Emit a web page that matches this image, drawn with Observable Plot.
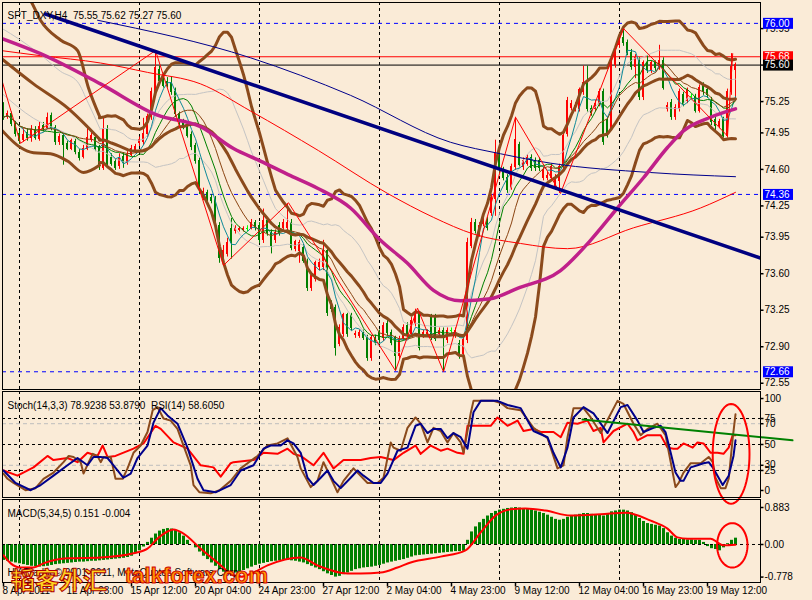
<!DOCTYPE html>
<html><head><meta charset="utf-8">
<script src="https://cdn.jsdelivr.net/npm/d3@7"></script>
<script src="https://cdn.jsdelivr.net/npm/@observablehq/plot@0.6"></script>
<style>
html,body{margin:0;padding:0;background:#FAEBD7;}
#wrap{position:relative;width:812px;height:600px;background:#FAEBD7;overflow:hidden;}
#chart svg{display:block;overflow:visible;}
.wm{position:absolute;white-space:nowrap;font-weight:bold;}
</style></head>
<body><div id="wrap"><div id="chart"></div>
<div class="wm" style="left:11px;top:561px;font-size:24px;font-family:'Noto Sans CJK SC';color:#FFD21F;-webkit-text-stroke:1px #B00000;">韬客外汇</div>
<div class="wm" style="left:125px;top:563px;font-size:22px;font-family:'Liberation Sans';color:#FF9A00;-webkit-text-stroke:1px #D00000;">talkforex.com</div>
</div>
<script>
// ---------------- data (H4 bars, index 0 = 8 Apr 2011) ----------------
const opens = [
75.19,75.10,75.13,75.04,74.94,74.88,74.95,74.90,74.98,74.89,
75.02,75.00,75.11,75.00,74.86,74.92,74.84,74.80,74.86,74.76,
74.72,74.80,74.88,74.90,74.81,74.61,74.99,74.71,74.67,74.63,
74.72,74.66,74.74,74.77,74.85,74.86,74.94,75.10,75.33,75.55,
75.47,75.44,75.43,75.34,75.13,75.05,75.01,74.93,74.82,74.68,
74.33,74.37,74.33,74.31,74.06,73.75,73.79,74.03,74.01,74.02,
74.02,74.03,74.04,74.09,74.06,73.92,74.11,73.99,73.92,74.06,
74.04,74.04,74.09,73.84,73.82,73.85,73.70,73.46,73.55,73.66,
73.66,73.82,73.31,73.27,72.93,73.02,73.20,73.20,73.01,73.00,
73.03,72.98,72.79,72.98,73.03,72.98,73.12,73.03,72.98,72.81,
72.98,73.10,73.02,73.12,73.22,73.00,73.02,73.18,73.18,73.02,
73.05,72.96,73.05,73.00,72.93,72.83,72.96,73.87,74.09,73.98,
74.08,74.11,74.18,74.32,74.76,74.59,74.52,74.42,74.62,74.83,
74.62,74.65,74.71,74.68,74.68,74.52,74.52,74.52,74.42,74.49,
74.62,74.94,75.19,75.18,75.18,75.34,75.43,75.18,75.18,75.23,
75.34,75.07,75.00,75.60,75.79,75.86,75.81,75.72,75.58,75.64,
75.29,75.62,75.55,75.62,75.58,75.64,75.18,75.24,75.10,75.18,
75.31,75.26,75.29,75.29,75.16,75.40,75.36,75.26,75.07,75.02,
75.07,74.92,75.34,75.55];
const highs = [
75.24,75.16,75.15,75.06,74.97,74.99,74.99,75.02,75.01,75.05,
75.05,75.14,75.14,75.02,74.94,74.94,74.87,74.89,74.89,74.79,
74.83,75.02,74.95,74.93,74.83,75.09,75.02,74.75,74.70,74.75,
74.76,74.77,74.83,74.84,74.91,75.09,75.13,75.38,75.74,75.59,
75.50,75.48,75.49,75.38,75.15,75.08,75.04,74.96,74.85,74.71,
74.42,74.40,74.36,74.34,74.09,73.87,73.94,74.13,74.06,74.05,
74.05,74.06,74.12,74.11,74.09,74.22,74.14,74.02,74.02,74.09,
74.12,74.27,74.12,73.92,73.92,73.88,73.74,73.61,73.72,73.74,
73.92,73.85,73.34,73.30,73.11,73.22,73.22,73.22,73.05,73.06,
73.06,73.01,73.01,73.01,73.06,73.13,73.15,73.06,73.00,73.00,
73.11,73.13,73.18,73.26,73.24,73.06,73.06,73.21,73.21,73.08,
73.08,73.08,73.08,73.08,72.96,72.98,73.94,74.13,74.12,74.09,
74.16,74.14,74.36,74.88,74.79,74.62,74.55,74.65,75.10,74.86,
74.71,74.74,74.74,74.71,74.71,74.62,74.57,74.65,74.55,74.65,
74.95,75.29,75.26,75.24,75.38,75.59,75.59,75.21,75.26,75.37,
75.37,75.10,75.64,75.75,75.88,75.95,75.84,75.75,75.70,75.67,
75.64,75.69,75.64,75.64,75.79,75.67,75.24,75.27,75.22,75.37,
75.34,75.38,75.32,75.32,75.41,75.43,75.38,75.29,75.10,75.08,
75.10,75.37,75.71,75.62];
const lows = [
75.07,75.08,75.01,74.91,74.84,74.86,74.87,74.86,74.88,74.87,
74.96,74.98,74.97,74.83,74.83,74.64,74.78,74.78,74.74,74.68,
74.70,74.78,74.86,74.77,74.59,74.59,74.61,74.63,74.59,74.60,
74.61,74.64,74.72,74.75,74.82,74.83,74.91,75.07,75.30,75.42,
75.38,75.38,75.31,75.10,75.02,74.98,74.90,74.78,74.65,74.36,
74.30,74.29,74.27,74.03,73.70,73.68,73.76,73.74,73.98,74.00,
74.00,74.00,74.02,74.01,73.89,73.89,73.96,73.79,73.89,73.96,
74.01,74.01,73.82,73.81,73.70,73.70,73.43,73.43,73.52,73.63,
73.63,73.19,73.23,72.81,72.90,72.99,72.99,73.05,72.98,72.98,
72.96,72.76,72.76,72.91,72.93,72.95,73.00,72.91,72.67,72.78,
72.96,72.99,72.99,73.09,72.86,72.98,72.99,72.96,72.95,72.99,
72.66,72.93,73.02,72.98,72.78,72.80,72.93,73.84,73.98,73.95,
74.05,74.01,74.15,74.15,74.56,74.49,74.37,74.40,74.59,74.61,
74.59,74.63,74.58,74.58,74.58,74.49,74.49,74.49,74.40,74.37,
74.59,74.91,75.16,75.15,75.15,75.31,75.15,75.11,75.15,75.20,
74.83,74.90,74.97,75.57,75.76,75.78,75.69,75.55,75.47,75.26,
75.26,75.52,75.52,75.54,75.55,75.36,75.15,75.07,75.07,75.15,
75.20,75.23,75.26,75.14,75.14,75.31,75.28,75.02,74.97,74.99,
74.90,74.90,75.31,75.27];
const closes = [
75.10,75.13,75.04,74.94,74.87,74.93,74.90,74.98,74.90,75.01,
74.99,75.09,75.00,74.86,74.91,74.83,74.80,74.87,74.77,74.71,
74.80,74.90,74.92,74.80,74.63,74.99,74.63,74.65,74.61,74.71,
74.66,74.74,74.80,74.81,74.88,74.94,75.10,75.34,75.57,75.45,
75.40,75.40,75.34,75.13,75.05,75.01,74.92,74.81,74.68,74.40,
74.38,74.32,74.30,74.06,73.75,73.82,73.89,73.89,74.04,74.03,
74.03,74.03,74.09,74.04,73.92,74.11,73.99,73.87,73.99,73.99,
74.09,74.09,73.85,73.90,73.89,73.72,73.46,73.58,73.70,73.70,
73.82,73.22,73.26,72.89,73.08,73.20,73.02,73.08,73.02,73.03,
72.98,72.79,72.98,72.94,72.96,73.10,73.03,72.94,72.81,72.97,
73.08,73.02,73.15,73.22,72.89,73.03,73.03,72.98,72.97,73.05,
72.98,73.05,73.05,73.05,72.81,72.96,73.89,74.09,74.01,74.06,
74.13,74.04,74.33,74.76,74.59,74.52,74.40,74.62,74.88,74.64,
74.68,74.71,74.61,74.61,74.61,74.59,74.54,74.62,74.52,74.62,
74.92,75.26,75.23,75.21,75.36,75.43,75.18,75.14,75.23,75.34,
74.86,74.92,75.60,75.72,75.86,75.81,75.72,75.58,75.67,75.29,
75.62,75.55,75.62,75.57,75.64,75.38,75.21,75.10,75.19,75.34,
75.23,75.36,75.29,75.16,75.38,75.34,75.31,75.05,75.02,75.05,
74.92,75.34,75.58,75.60];

const xTickIdx = [0,16,32,48,64,80,96,112,128,144,160,176];
const xTickLabels = ["8 Apr 2011","12 Apr 23:00","15 Apr 12:00","20 Apr 04:00","24 Apr 23:00","27 Apr 12:00",
  "2 May 04:00","4 May 23:00","9 May 12:00","12 May 04:00","16 May 23:00","19 May 12:00"];
const gridIdx = [4,34,64,94,124,154];
const priceTicks = [75.95,75.60,75.25,74.95,74.60,74.25,73.95,73.60,73.25,72.90,72.55];
const blueLevels = [76.00,74.36,72.66];
const askLevel = [75.68];
const bidLevel = [75.60];
const titleText = "SPT_DXY,H4  75.55 75.62 75.27 75.60";

// band values before the 20-bar window is filled (history before the first visible bar)
const bbUpperLead = [[4,76.35],[6.75,76.22],[9.25,76.03],[14.25,75.84],[18.5,75.74],[21.25,75.38],[24,75.11]];
const bbMidLead = [[-0.75,75.67],[7.5,75.42],[16,75.19],[24,74.89]];
const bbLowerLead = [[-0.75,74.99],[4.25,74.81],[7.5,74.76],[11.75,74.75],[16,74.68],[20,74.57],[24,74.64]];
const bb1UpperLead = [[-0.75,75.96],[4.25,75.84],[9.25,75.70],[14.25,75.54],[18.5,75.44],[21.25,75.23],[24,75.00]];
const bb1LowerLead = [[-0.75,75.34],[7.5,75.09],[16,74.94],[24,74.76]];
const bandStart = 24;

// hand-read long moving averages, trend line, zigzag  [bar index, price]
const maMagenta = [[-0.75,75.86],[9.25,75.71],[24.25,75.42],[38.5,75.12],[49.25,75.01],[57.5,74.80],[64.25,74.68],
  [71.75,74.54],[78.5,74.42],[86.75,74.23],[94.25,73.92],[101,73.70],[107.5,73.44],[114.25,73.34],[121.75,73.36],
  [128.5,73.46],[139.25,73.63],[146.75,73.92],[153.5,74.23],[160,74.52],[166,74.81],[170,74.97],[176.75,75.10],[183,75.18]];
const maRed = [[-0.75,75.74],[9.25,75.69],[24.25,75.62],[36,75.53],[49.25,75.42],[61.75,75.16],[78.75,74.78],
  [96,74.37],[107.5,74.14],[117.5,73.98],[129.25,73.89],[141,73.84],[157.5,74.04],[174.25,74.23],[183,74.38]];
const maNavy = [[23.5,76.03],[61.75,75.67],[86.75,75.31],[111.75,74.86],[124.25,74.75],[136.75,74.66],[161.75,74.57],[183,74.53]];
const trendLine = [[10.5,76.09],[189.25,73.75]];
const zigzag = [[-0.75,75.50],[4.25,74.85],[38,75.74],[55,73.68],[71.25,74.28],[98,72.67],[103.5,73.27],[110,72.66],
  [128,75.10],[139.25,74.37],[155,75.95],[181,74.92],[182.3,75.71]];

// Stochastic(14,3,3) and RSI(14)  [bar index, value]
const stochK = [[0,22],[1,17],[2.5,13],[5.5,6],[8,8],[10,17],[12.5,23],[15,33],[16.3,39],[17.5,38],[19.3,33],[20,22],[21.3,33],
  [22.3,41],[23.5,39],[24.3,33],[25,38],[26.8,38],[28,17],[29.8,17],[31,27],[32.5,42],[34.3,49],[36,62],[37.3,83],[38.5,86],
  [40,75],[41.8,73],[43.5,65],[45,49],[46.8,30],[47.5,11],[49,4],[51.8,3],[54,6],[56.8,15],[59.3,27],[63.5,39],[66,49],
  [68.5,51],[71,56],[73.5,38],[74.3,27],[76.8,9],[78.5,15],[80,33],[81.8,18],[83.5,4],[85,15],[87.5,27],[91,13],[93.5,13],
  [95,18],[96.8,52],[97.5,47],[99.3,44],[101,66],[103,76],[104.3,70],[106,52],[107.5,66],[109.3,63],[111,52],[112.5,61],
  [114.3,52],[115,42],[116.8,80],[117.5,92],[122.5,92],[124.3,90],[126,85],[129.3,83],[132.5,66],[136,56],[138.5,27],
  [140,30],[141,57],[142.5,85],[145,85],[146.8,76],[149.3,61],[153.5,92],[155,89],[157.5,70],[159.3,59],[161,65],
  [163.5,70],[165.5,59],[166.8,33],[168,9],[168.8,13],[170,23],[171.8,32],[174.3,32],[176.3,38],[177.3,33],[178,18],
  [179.3,8],[180.5,8],[181.3,17],[182.3,56],[183,79]];
const stochD = [[0,25],[3,13],[6.8,6],[9.3,11],[12.5,20],[16,30],[18.5,37],[21,30],[22.5,38],[24.3,38],[26,37],[27.5,30],
  [30,18],[31.8,22],[33.5,37],[36,49],[37.5,71],[39.3,85],[41,78],[43.5,70],[46,47],[48.5,17],[50,6],[53,4],[56.8,11],
  [59.3,25],[62.5,30],[65,46],[66.8,49],[69.3,49],[71,54],[72.5,51],[74.3,42],[76,18],[77.5,11],[79.3,18],[81,25],
  [82.5,15],[84.3,8],[86.8,18],[88.5,25],[90,20],[92.5,13],[94.3,13],[96,22],[98.5,44],[101,47],[103,68],[104.3,70],
  [106,61],[107.5,65],[109.3,65],[111,56],[112.5,61],[114.3,57],[116,46],[117.5,81],[119.3,92],[123.5,92],[126,88],
  [129.3,85],[132.5,63],[136,57],[137.5,42],[139.3,28],[141,47],[142.5,76],[145,86],[147.5,80],[151,61],[154.3,86],
  [156,88],[158.5,73],[160,62],[162.5,66],[164.3,68],[165.5,62],[166.8,42],[168,23],[169.3,15],[170,15],[171.8,28],
  [173.5,30],[175,32],[176.3,33],[177.3,28],[178.5,20],[179.8,11],[181.3,20],[182.5,39],[183,54]];
const rsi = [[0,25],[3.5,20],[7.5,28],[11,39],[12.5,35],[16,37],[18.5,33],[21,42],[23.5,39],[24.8,49],[26,38],[28,39],
  [32.5,46],[35,51],[38,68],[39.3,65],[42.5,52],[46,46],[49.3,30],[52.5,28],[54.3,19],[56.8,32],[57.5,33],[62.5,35],
  [65,42],[68.5,41],[71,46],[72.5,41],[74.3,39],[77.5,30],[80,42],[82.5,27],[85,35],[89.3,35],[91.8,37],[94.3,38],
  [97.5,35],[100,42],[103,49],[104.3,41],[106.8,49],[109.3,44],[111,46],[113.5,42],[115,41],[116,68],[121.8,68],
  [123.5,76],[126,68],[128.5,73],[130,63],[132.5,65],[134.3,62],[137.5,62],[139.3,57],[141,71],[143.5,70],[146,73],
  [147.5,63],[149.3,66],[150,52],[152.5,63],[156,70],[157.5,62],[158.5,54],[161,59],[164.3,59],[166,47],[167.5,46],
  [168.5,46],[170,51],[172.3,47],[173.5,52],[175,51],[176.8,42],[178.5,42],[180,41],[181.3,47],[182.3,59],[183,59]];
const stochTrend = [[144.75,74],[197.25,54]];
const stochLevelsBlack = [75,50,25];
const stochLevelsGrey = [70,30];
const stochTicks = [75,70,50,30,25];
const stochEdgeTop = [100], stochEdgeBottom = [0];
const stochLabel = "Stoch(14,3,3) 78.9238 53.8790  RSI(14) 58.6050";

// MACD(5,34,5)
const macdHist = [
-0.38,-0.40,-0.42,-0.44,-0.46,-0.48,-0.50,-0.52,-0.53,-0.54,
-0.53,-0.52,-0.50,-0.48,-0.47,-0.46,-0.45,-0.44,-0.43,-0.42,
-0.42,-0.41,-0.40,-0.40,-0.39,-0.38,-0.37,-0.36,-0.35,-0.34,
-0.33,-0.31,-0.28,-0.22,-0.15,-0.06,0.05,0.15,0.25,0.32,
0.36,0.38,0.37,0.34,0.28,0.20,0.10,0.00,-0.08,-0.18,
-0.28,-0.36,-0.44,-0.52,-0.60,-0.66,-0.70,-0.70,-0.68,-0.65,
-0.62,-0.58,-0.54,-0.50,-0.47,-0.45,-0.43,-0.41,-0.40,-0.39,
-0.38,-0.38,-0.39,-0.40,-0.42,-0.44,-0.48,-0.52,-0.56,-0.60,
-0.65,-0.70,-0.74,-0.778,-0.76,-0.72,-0.68,-0.64,-0.60,-0.58,
-0.56,-0.55,-0.54,-0.52,-0.50,-0.47,-0.44,-0.42,-0.40,-0.38,
-0.36,-0.33,-0.30,-0.27,-0.26,-0.25,-0.24,-0.23,-0.22,-0.21,
-0.20,-0.19,-0.18,-0.17,-0.17,-0.16,0.10,0.30,0.42,0.52,
0.60,0.68,0.74,0.79,0.82,0.84,0.86,0.87,0.883,0.87,
0.86,0.85,0.83,0.80,0.77,0.74,0.70,0.65,0.60,0.58,
0.60,0.65,0.68,0.70,0.72,0.74,0.74,0.72,0.70,0.70,
0.68,0.72,0.78,0.80,0.82,0.82,0.80,0.76,0.70,0.62,
0.55,0.50,0.48,0.46,0.44,0.38,0.28,0.20,0.15,0.12,
0.12,0.11,0.11,0.10,0.10,0.05,-0.05,-0.10,-0.12,-0.15,
-0.08,0.02,0.10,0.151];
const macdSignal = [[0,-0.26],[1.8,-0.45],[4.3,-0.55],[7.5,-0.55],[10,-0.45],[16,-0.33],[24.3,-0.31],[32.5,-0.21],
  [36,-0.10],[38.5,0.14],[41,0.31],[42.5,0.36],[45,0.26],[49.3,-0.10],[53.5,-0.43],[57.5,-0.74],[59.3,-0.77],
  [62.5,-0.67],[66,-0.50],[74.3,-0.31],[78.5,-0.50],[86,-0.69],[89.3,-0.69],[94.3,-0.67],[98.5,-0.55],[101.8,-0.43],
  [109.3,-0.29],[115.5,-0.14],[119.3,0.29],[123,0.69],[126.8,0.84],[130.5,0.86],[135.5,0.81],[141.8,0.69],
  [149.3,0.72],[155.5,0.76],[161.8,0.57],[166,0.38],[168.5,0.17],[171,0.14],[176.8,0.14],[178.5,0.05],[180,-0.02],[183,-0.004]];
const macdTicks = [0.883,0.00,-0.778];
const macdLabel = "MACD(5,34,5) 0.151 -0.004";
const copyrightText = "HY Tradoc© 2001-2011, MetaQuotes Software Corp.";

// annotation ellipses (hand drawn in the original): centre index, centre value, radius in bars, radius in value units
const stochEllipse = {i: 181.9, v: 41, ri: 4.6, rv: 48};
const macdEllipse = {i: 182.2, v: -0.02, ri: 3.8, rv: 0.53};

// ---------------- drawing ----------------
const W = 812, ML = 2, MR = 52;
const xDomain = [-0.25, 189.25];
const font = "Liberation Sans, Arial, sans-serif";
const bars = closes.map((c, i) => ({i, o: opens[i], h: highs[i], l: lows[i], c, hist: macdHist[i]}));
const candleColor = d => d.c > d.o ? "#FF0000" : d.c < d.o ? "#008000" : "#00FF00";
const P = {x: d => d[0], y: d => d[1]};
const sd = V => { const m = d3.mean(V); return Math.sqrt(d3.mean(V, v => (v - m) ** 2)); };
const tickSym = {draw(ctx) { ctx.moveTo(0, 0); ctx.lineTo(3, 0); }};
const vTickSym = {draw(ctx) { ctx.moveTo(0, 0); ctx.lineTo(0, 4); }};
const boxSym = {draw(ctx) { ctx.rect(2.5, -5.5, 30, 11); }};
const ellipsePts = e => d3.range(0, 64).map(k => [e.i + e.ri * Math.cos(k / 64 * 2 * Math.PI), e.v + e.rv * Math.sin(k / 64 * 2 * Math.PI)]);
const baseStyle = {background: "transparent", fontFamily: font, fontSize: "10px", overflow: "visible", color: "black"};
const BB = "#8B4A1C", GREY = "#C4C4C4";
const band = (reduce, stroke, strokeWidth) =>
  Plot.lineY(bars, Plot.filter(d => d.i >= bandStart, Plot.windowY({k: 20, anchor: "end", reduce}, {x: "i", y: "c", stroke, strokeWidth, clip: true})));

const rightLabels = (vals) => [
  Plot.dot(vals, {y: d => d, frameAnchor: "right", symbol: tickSym, stroke: "black", fill: "none", r: 2}),
  Plot.text(vals, {y: d => d, text: d => d.toFixed(2), frameAnchor: "right", textAnchor: "start", dx: 4, fill: "black"})
];
const boxLabel = (vals, color) => [
  Plot.dot(vals, {y: d => d, frameAnchor: "right", symbol: boxSym, fill: color, stroke: "none", r: 2}),
  Plot.text(vals, {y: d => d, text: d => d.toFixed(2), frameAnchor: "right", textAnchor: "start", dx: 4, fill: "white"})
];

const main = Plot.plot({
  width: W, height: 390, marginTop: 2, marginBottom: 1, marginLeft: ML, marginRight: MR,
  x: {domain: xDomain, axis: null},
  y: {domain: [72.49, 76.20], axis: null},
  style: baseStyle,
  marks: [
    Plot.ruleX(gridIdx, {x: d => d, stroke: "black", strokeDasharray: "3,3"}),
    Plot.ruleY(blueLevels, {y: d => d, stroke: "#0000FF", strokeDasharray: "4,4"}),
    Plot.ruleY(askLevel, {y: d => d, stroke: "#FF0000", strokeWidth: 1.2}),
    Plot.ruleY(bidLevel, {y: d => d, stroke: "black", strokeWidth: 1}),
    // candles
    Plot.ruleX(bars, {x: "i", y1: "l", y2: "h", stroke: candleColor, strokeWidth: 1}),
    Plot.rect(bars, {x1: d => d.i - 0.37, x2: d => d.i + 0.37, y1: d => Math.min(d.o, d.c), y2: d => Math.max(d.o, d.c),
      fill: candleColor, insetTop: -0.5, insetBottom: -0.5, shapeRendering: "crispEdges"}),
    // Bollinger (20,1) grey
    band(V => d3.mean(V) + sd(V), GREY, 1),
    band(V => d3.mean(V) - sd(V), GREY, 1),
    Plot.line(bb1UpperLead, {...P, stroke: GREY, strokeWidth: 1, curve: "monotone-x", clip: true}),
    Plot.line(bb1LowerLead, {...P, stroke: GREY, strokeWidth: 1, curve: "monotone-x", clip: true}),
    // short moving averages from the bars
    Plot.lineY(bars, Plot.windowY({k: 5, anchor: "end", reduce: "mean"}, {x: "i", y: "c", stroke: "#0E8A9A", strokeWidth: 1})),
    Plot.lineY(bars, Plot.windowY({k: 10, anchor: "end", reduce: "mean"}, {x: "i", y: "c", stroke: "#008000", strokeWidth: 1})),
    Plot.lineY(bars, Plot.windowY({k: 14, anchor: "end", reduce: "mean"}, {x: "i", y: "c", stroke: "#8B4513", strokeWidth: 1})),
    // Bollinger bands (20, 2)
    band("mean", BB, 3),
    band(V => d3.mean(V) + 2 * sd(V), BB, 3),
    band(V => d3.mean(V) - 2 * sd(V), BB, 3),
    Plot.line(bbUpperLead, {...P, stroke: BB, strokeWidth: 3, curve: "monotone-x", clip: true}),
    Plot.line(bbMidLead, {...P, stroke: BB, strokeWidth: 3, curve: "monotone-x", clip: true}),
    Plot.line(bbLowerLead, {...P, stroke: BB, strokeWidth: 3, curve: "monotone-x", clip: true}),
    // long MAs
    Plot.line(maRed, {...P, stroke: "#FF0000", strokeWidth: 1, curve: "monotone-x", clip: true}),
    Plot.line(maNavy, {...P, stroke: "#00008B", strokeWidth: 1, curve: "monotone-x", clip: true}),
    Plot.line(maMagenta, {...P, stroke: "#C0208A", strokeWidth: 3.5, curve: "monotone-x", clip: true}),
    Plot.line(zigzag, {...P, stroke: "#FF0000", strokeWidth: 1, clip: true}),
    Plot.line(trendLine, {...P, stroke: "#000080", strokeWidth: 3.5, clip: true}),
    Plot.frame({stroke: "black"}),
    Plot.text([titleText], {frameAnchor: "top-left", dx: 5, dy: 9, textAnchor: "start", fill: "black"}),
    ...rightLabels(priceTicks),
    ...boxLabel(blueLevels, "#0000FF"),
    ...boxLabel(askLevel, "#FF0000"),
    ...boxLabel(bidLevel, "#000000")
  ]
});

const stoch = Plot.plot({
  width: W, height: 108, marginTop: 1, marginBottom: 1, marginLeft: ML, marginRight: MR,
  x: {domain: xDomain, axis: null},
  y: {domain: [-1, 101], axis: null},
  style: baseStyle,
  marks: [
    Plot.ruleX(gridIdx, {x: d => d, stroke: "black", strokeDasharray: "3,3"}),
    Plot.ruleY(stochLevelsBlack, {y: d => d, stroke: "black", strokeDasharray: "3,3"}),
    Plot.ruleY(stochLevelsGrey, {y: d => d, stroke: "#BDBDBD", strokeDasharray: "4,3"}),
    Plot.line(rsi, {...P, stroke: "#FF0000", strokeWidth: 2}),
    Plot.line(stochK, {...P, stroke: BB, strokeWidth: 2}),
    Plot.line(stochD, {...P, stroke: "#00008B", strokeWidth: 2}),
    Plot.line(stochTrend, {...P, stroke: "#008000", strokeWidth: 2}),
    Plot.line(ellipsePts(stochEllipse), {...P, stroke: "#FF0000", strokeWidth: 2, curve: "linear-closed"}),
    Plot.frame({stroke: "black"}),
    Plot.text([stochLabel], {frameAnchor: "top-left", dx: 5, dy: 10, textAnchor: "start", fill: "black"}),
    Plot.dot(stochTicks, {y: d => d, frameAnchor: "right", symbol: tickSym, stroke: "black", fill: "none", r: 2}),
    Plot.text(stochTicks, {y: d => d, text: d => String(d), frameAnchor: "right", textAnchor: "start", dx: 4}),
    Plot.dot(stochEdgeTop, {y: d => d, frameAnchor: "right", symbol: tickSym, stroke: "black", fill: "none", r: 2, dy: 6}),
    Plot.text(stochEdgeTop, {y: d => d, text: d => String(d), frameAnchor: "right", textAnchor: "start", dx: 4, dy: 6}),
    Plot.dot(stochEdgeBottom, {y: d => d, frameAnchor: "right", symbol: tickSym, stroke: "black", fill: "none", r: 2, dy: -6}),
    Plot.text(stochEdgeBottom, {y: d => d, text: d => String(d), frameAnchor: "right", textAnchor: "start", dx: 4, dy: -6})
  ]
});

const macd = Plot.plot({
  width: W, height: 102, marginTop: 1, marginBottom: 18, marginLeft: ML, marginRight: MR,
  x: {domain: xDomain, axis: null},
  y: {domain: [-0.907, 1.074], axis: null},
  style: baseStyle,
  marks: [
    Plot.ruleX(gridIdx, {x: d => d, stroke: "black", strokeDasharray: "3,3"}),
    Plot.ruleX(bars, {x: "i", y1: 0, y2: "hist", stroke: "#008000", strokeWidth: 3}),
    Plot.ruleY([0], {stroke: "black", strokeDasharray: "3,3"}),
    Plot.line(macdSignal, {...P, stroke: "#FF0000", strokeWidth: 2, curve: "monotone-x"}),
    Plot.line(ellipsePts(macdEllipse), {...P, stroke: "#FF0000", strokeWidth: 2, curve: "linear-closed"}),
    Plot.frame({stroke: "black"}),
    Plot.text([macdLabel], {frameAnchor: "top-left", dx: 5, dy: 10, textAnchor: "start", fill: "black"}),
    Plot.text([copyrightText], {frameAnchor: "bottom-left", dx: 5, dy: -7, textAnchor: "start", fill: "black"}),
    Plot.dot(macdTicks, {y: d => d, frameAnchor: "right", symbol: tickSym, stroke: "black", fill: "none", r: 2}),
    Plot.text(macdTicks, {y: d => d, text: d => d === 0 ? "0.00" : d.toFixed(3), frameAnchor: "right", textAnchor: "start", dx: 4}),
    Plot.dot(xTickIdx, {x: d => d, frameAnchor: "bottom", symbol: vTickSym, stroke: "black", fill: "none", r: 2}),
    Plot.text(xTickIdx, {x: d => d, text: (d, i) => xTickLabels[i], frameAnchor: "bottom", textAnchor: "start", dx: -1, dy: 11})
  ]
});

const host = document.getElementById("chart");
host.append(main, stoch, macd);
</script>
</body></html>
